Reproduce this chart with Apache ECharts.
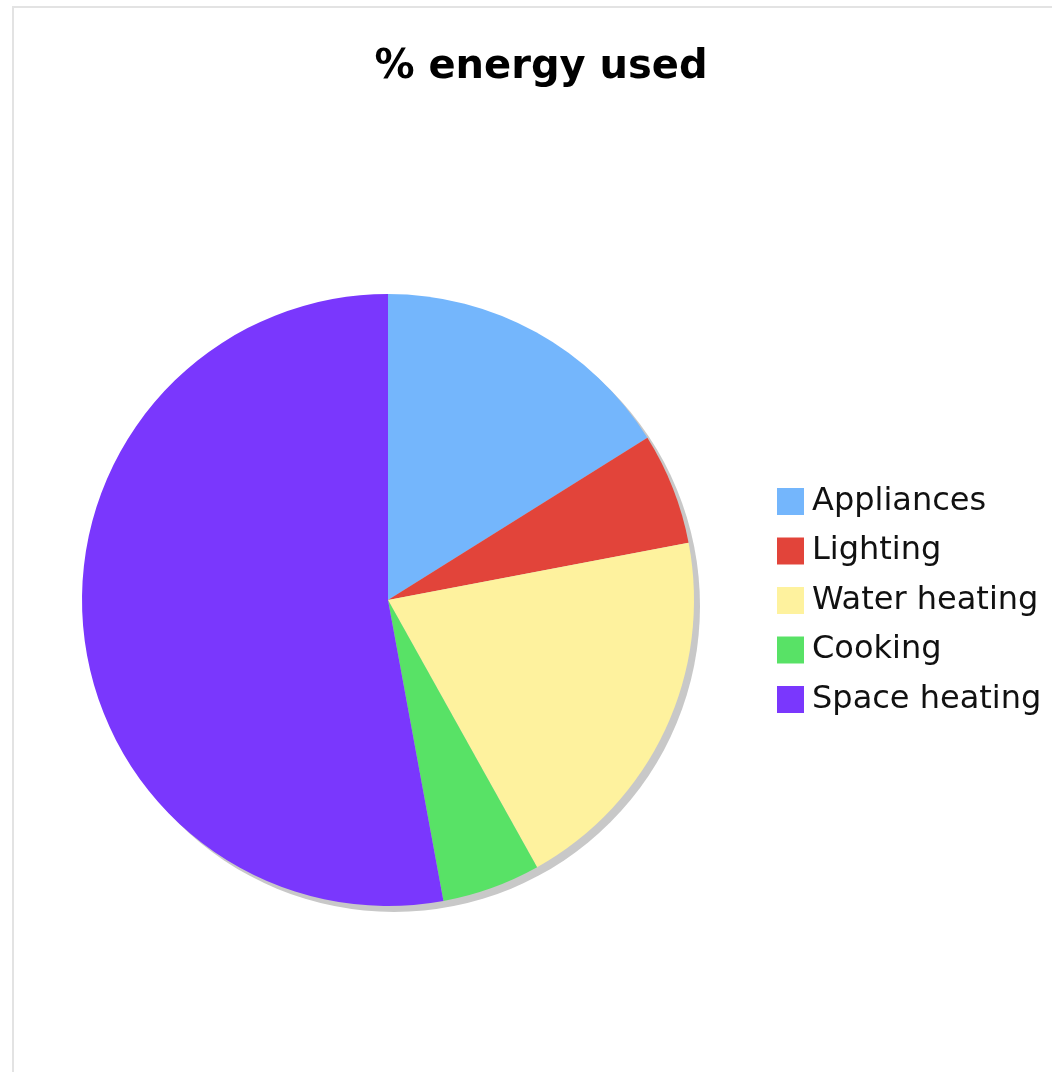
<!DOCTYPE html>
<html>
<head>
<meta charset="utf-8">
<script src="https://cdn.jsdelivr.net/npm/echarts@6/dist/echarts.min.js"></script>
<style>
html, body { margin: 0; padding: 0; background: #fff; }
#frame { position: absolute; left: 12px; top: 6px; width: 1060px; height: 1090px;
  border-left: 2px solid #e3e3e3; border-top: 2px solid #e3e3e3; }
#chart { position: absolute; left: 0; top: 0; width: 1052px; height: 1072px; }
</style>
</head>
<body>
<div id="frame"></div>
<div id="chart"></div>
<script>
var categories = ['Appliances', 'Lighting', 'Water heating', 'Cooking', 'Space heating'];
var values = [16.1, 5.9, 19.9, 5.2, 52.9];
var colors = ['#74b6fc', '#e2443a', '#fef29e', '#58e266', '#7a37fd'];

var chart = echarts.init(document.getElementById('chart'));
var pieData = categories.map(function (name, i) {
    return { name: name, value: values[i], itemStyle: { color: colors[i] } };
});

var option = {
    animation: false,
    title: {
        text: '% energy used',
        left: 541,
        textAlign: 'center',
        top: 48,
        padding: 0,
        textStyle: {
            fontFamily: 'DejaVu Sans',
            fontWeight: 'bold',
            fontSize: 40,
            color: '#000'
        }
    },
    legend: {
        orient: 'vertical',
        left: 777,
        top: 485.5,
        padding: 0,
        itemWidth: 27,
        itemHeight: 27,
        itemGap: 17.5,
        icon: 'rect',
        data: categories,
        textStyle: {
            fontFamily: 'DejaVu Sans',
            fontSize: 32,
            color: '#111',
            padding: [0, 0, 0, 3]
        }
    },
    series: [
        {
            // shadow disc behind the pie
            type: 'pie',
            silent: true,
            center: [394, 606],
            radius: 306,
            label: { show: false },
            labelLine: { show: false },
            itemStyle: { color: '#c8c8c8' },
            z: 1,
            data: [{ name: 'shadow', value: 1 }]
        },
        {
            type: 'pie',
            center: [388, 600],
            radius: 306,
            startAngle: 90,
            clockwise: true,
            label: { show: false },
            labelLine: { show: false },
            emphasis: { disabled: true },
            itemStyle: { borderWidth: 0 },
            z: 2,
            data: pieData
        }
    ]
};
chart.setOption(option);
</script>
</body>
</html>
